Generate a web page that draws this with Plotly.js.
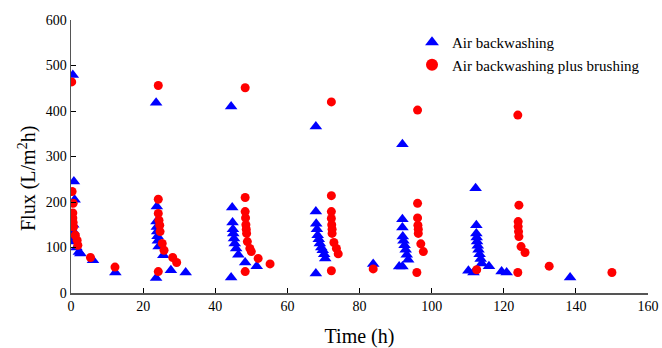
<!DOCTYPE html>
<html>
<head>
<meta charset="utf-8">
<script src="https://cdn.plot.ly/plotly-3.0.1.min.js"></script>
<style>html,body{margin:0;padding:0;background:#fff;}#chart{width:662px;height:348px;}</style>
</head>
<body>
<div id="chart"></div>
<script>
// Air backwashing
const airTime = [0.5,0.8,1.0,0.6,0.7,0.8,0.9,1.5,2.2,2.6,6.1,12.3,
  23.6,23.8,23.7,23.8,23.9,24.0,24.1,24.3,25.6,27.7,31.8,23.6,
  44.4,44.7,44.8,44.9,45.0,45.2,45.4,45.8,46.4,48.3,51.5,44.4,
  67.9,67.9,68.0,68.2,68.4,68.7,69.0,69.4,69.8,70.2,70.5,67.9,
  83.8,
  91.9,91.9,91.9,92.0,92.2,92.5,92.8,93.1,93.5,91.0,91.9,
  112.2,112.4,112.4,112.5,112.6,112.8,113.0,113.3,113.6,113.9,115.9,110.2,111.6,119.4,120.8,
  138.4];
const airFlux = [479,245,205,150,135,120,113,100,90,87,72,45,
  418,190,157,145,135,125,115,102,83,50,45,33,
  410,188,155,140,131,120,109,98,84,67,59,34,
  366,179,152,140,127,118,109,100,94,85,76,43,
  64,
  327,162,144,124,115,105,95,84,73,58,58,
  230,149,131,122,113,104,95,85,75,65,59,49,45,47,45,
  34];
// Air backwashing plus brushing
const brushTime = [0.2,0.3,0.6,0.5,0.5,0.6,0.7,1.2,1.7,1.9,5.4,12.2,
  24.2,24.2,24.2,24.4,24.6,24.7,25.3,25.8,28.2,29.3,24.2,
  48.3,48.3,48.3,48.4,48.5,48.6,48.7,48.9,49.6,50.0,51.9,55.2,48.3,
  72.2,72.2,72.2,72.2,72.3,72.4,72.4,72.9,73.6,74.1,72.2,
  83.8,
  96.1,96.1,96.1,96.2,96.3,96.3,97.0,97.7,95.9,
  112.5,123.9,124.2,124.0,124.0,124.1,124.2,124.8,125.9,123.9,
  132.6,150.0];
const brushFlux = [464,223,197,176,165,155,145,127,116,105,78,57,
  456,206,175,160,149,135,109,94,78,67,47,
  451,210,179,165,150,140,131,113,98,91,76,64,47,
  420,214,179,164,150,140,131,111,98,86,49,
  53,
  402,197,165,149,140,131,108,91,45,
  51,391,193,157,146,135,124,102,89,45,
  59,45];
const names = ['Air backwashing','Air backwashing plus brushing'];
const xTicks = [0,20,40,60,80,100,120,140,160];
const yTicks = [0,100,200,300,400,500,600];
const xTitle = 'Time (h)';
const yTitle = 'Flux (L/m<sup>2</sup>h)';

const traces = [
  {x: airTime, y: airFlux, name: names[0], mode: 'markers', type: 'scatter',
   marker: {symbol: 'triangle-up', size: 11, color: '#0000ff'}},
  {x: brushTime, y: brushFlux, name: names[1], mode: 'markers', type: 'scatter',
   marker: {symbol: 'circle', size: 9, color: '#ff0000'}}
];
const fam = 'Liberation Serif, Times New Roman, serif';
const f = (s) => ({family: fam, size: s, color: '#000'});
const layout = {
  width: 662, height: 348,
  margin: {l: 71, r: 14, t: 20, b: 55},
  paper_bgcolor: '#fff', plot_bgcolor: '#fff',
  font: f(14),
  showlegend: true,
  legend: {x: 0.591, y: 0.978, xanchor: 'left', yanchor: 'top', bgcolor: 'rgba(0,0,0,0)',
    font: f(15), itemsizing: 'constant', tracegroupgap: 0},
  xaxis: {range: [0,160], tickvals: xTicks, ticktext: xTicks.map(String), ticks: 'inside', ticklen: 5,
    showgrid: false, zeroline: false, showline: true, linecolor: '#555', linewidth: 1.5, tickcolor: '#000',
    title: {text: xTitle, font: f(20), standoff: 17},
    tickfont: f(14)},
  yaxis: {range: [0,600], tickvals: yTicks, ticktext: yTicks.map(String), ticks: 'inside', ticklen: 5,
    showgrid: false, zeroline: false, showline: true, linecolor: '#555', linewidth: 1.5, tickcolor: '#000',
    tickfont: f(14)},
  annotations: [{text: yTitle, xref: 'paper', yref: 'paper', x: -0.0763, y: 0.421,
    xanchor: 'center', yanchor: 'middle', textangle: -90, showarrow: false, font: f(20)}]
};
Plotly.newPlot('chart', traces, layout, {displayModeBar: false, staticPlot: true});
</script>
</body>
</html>
